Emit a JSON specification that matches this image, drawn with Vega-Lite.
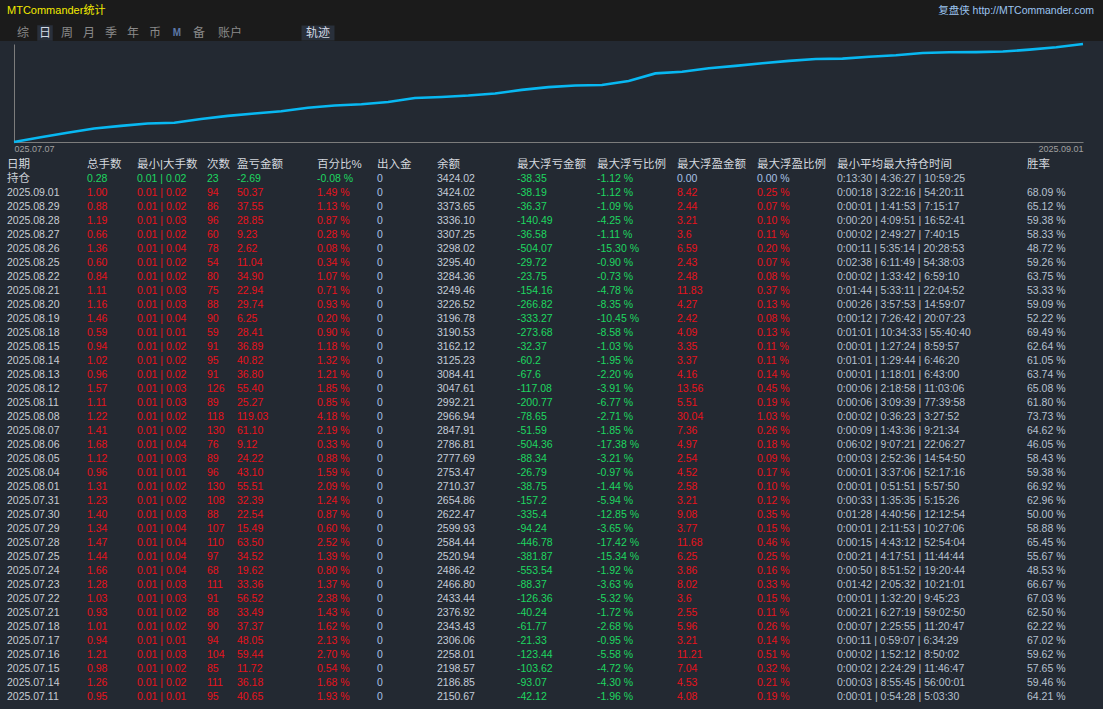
{
  "$schema": "https://vega.github.io/schema/vega-lite/v6.json",
  "background": "#1b1b1b",
  "padding": 0,
  "spacing": 0,
  "bounds": "flush",
  "config": {"view": {"stroke": null}, "axis": {"domainWidth": 1}},
  "datasets": {
    "hdr": [
      {"t": "MTCommander统计", "i": 0, "r": "top", "kind": "title"},
      {"t": "综", "i": 1, "r": "tab", "kind": "tab"},
      {"t": "日", "i": 2, "r": "tab", "kind": "sel"},
      {"t": "周", "i": 3, "r": "tab", "kind": "tab"},
      {"t": "月", "i": 4, "r": "tab", "kind": "tab"},
      {"t": "季", "i": 5, "r": "tab", "kind": "tab"},
      {"t": "年", "i": 6, "r": "tab", "kind": "tab"},
      {"t": "币", "i": 7, "r": "tab", "kind": "tab"},
      {"t": "M", "i": 8, "r": "tab", "kind": "icon"},
      {"t": "备", "i": 9, "r": "tab", "kind": "tab"},
      {"t": "账户", "i": 10, "r": "tab", "kind": "tab"},
      {"t": "轨迹", "i": 11, "r": "tab", "kind": "sel"},
      {"t": "复盘侠 http://MTCommander.com", "i": 12, "r": "top", "kind": "url"}
    ],
    "eq": [
      {"d": "2025.07.07", "v": 1900},
      {"d": "2025.07.08", "v": 1975},
      {"d": "2025.07.09", "v": 2045},
      {"d": "2025.07.10", "v": 2110.02},
      {"d": "2025.07.11", "v": 2150.67},
      {"d": "2025.07.14", "v": 2186.85},
      {"d": "2025.07.15", "v": 2198.57},
      {"d": "2025.07.16", "v": 2258.01},
      {"d": "2025.07.17", "v": 2306.06},
      {"d": "2025.07.18", "v": 2343.43},
      {"d": "2025.07.21", "v": 2376.92},
      {"d": "2025.07.22", "v": 2433.44},
      {"d": "2025.07.23", "v": 2466.80},
      {"d": "2025.07.24", "v": 2486.42},
      {"d": "2025.07.25", "v": 2520.94},
      {"d": "2025.07.28", "v": 2584.44},
      {"d": "2025.07.29", "v": 2599.93},
      {"d": "2025.07.30", "v": 2622.47},
      {"d": "2025.07.31", "v": 2654.86},
      {"d": "2025.08.01", "v": 2710.37},
      {"d": "2025.08.04", "v": 2753.47},
      {"d": "2025.08.05", "v": 2777.69},
      {"d": "2025.08.06", "v": 2786.81},
      {"d": "2025.08.07", "v": 2847.91},
      {"d": "2025.08.08", "v": 2966.94},
      {"d": "2025.08.11", "v": 2992.21},
      {"d": "2025.08.12", "v": 3047.61},
      {"d": "2025.08.13", "v": 3084.41},
      {"d": "2025.08.14", "v": 3125.23},
      {"d": "2025.08.15", "v": 3162.12},
      {"d": "2025.08.18", "v": 3190.53},
      {"d": "2025.08.19", "v": 3196.78},
      {"d": "2025.08.20", "v": 3226.52},
      {"d": "2025.08.21", "v": 3249.46},
      {"d": "2025.08.22", "v": 3284.36},
      {"d": "2025.08.25", "v": 3295.40},
      {"d": "2025.08.26", "v": 3298.02},
      {"d": "2025.08.27", "v": 3307.25},
      {"d": "2025.08.28", "v": 3336.10},
      {"d": "2025.08.29", "v": 3373.65},
      {"d": "2025.09.01", "v": 3424.02}
    ],
    "cols": [
      {"k": "d", "ci": 0}, {"k": "a", "ci": 1}, {"k": "b", "ci": 2}, {"k": "n", "ci": 3},
      {"k": "p", "ci": 4}, {"k": "pc", "ci": 5}, {"k": "io", "ci": 6}, {"k": "bal", "ci": 7},
      {"k": "dd", "ci": 8}, {"k": "ddp", "ci": 9}, {"k": "fp", "ci": 10}, {"k": "fpp", "ci": 11},
      {"k": "t", "ci": 12}, {"k": "w", "ci": 13}
    ],
    "rows": [
      {"d": "日期", "a": "总手数", "b": "最小|大手数", "n": "次数", "p": "盈亏金额", "pc": "百分比%", "io": "出入金", "bal": "余额", "dd": "最大浮亏金额", "ddp": "最大浮亏比例", "fp": "最大浮盈金额", "fpp": "最大浮盈比例", "t": "最小平均最大持仓时间", "w": "胜率"},
      {"d": "持仓", "a": "0.28", "b": "0.01 | 0.02", "n": "23", "p": "-2.69", "pc": "-0.08 %", "io": "0", "bal": "3424.02", "dd": "-38.35", "ddp": "-1.12 %", "fp": "0.00", "fpp": "0.00 %", "t": "0:13:30 | 4:36:27 | 10:59:25", "w": ""},
      {"d": "2025.09.01", "a": "1.00", "b": "0.01 | 0.02", "n": "94", "p": "50.37", "pc": "1.49 %", "io": "0", "bal": "3424.02", "dd": "-38.19", "ddp": "-1.12 %", "fp": "8.42", "fpp": "0.25 %", "t": "0:00:18 | 3:22:16 | 54:20:11", "w": "68.09 %"},
      {"d": "2025.08.29", "a": "0.88", "b": "0.01 | 0.02", "n": "86", "p": "37.55", "pc": "1.13 %", "io": "0", "bal": "3373.65", "dd": "-36.37", "ddp": "-1.09 %", "fp": "2.44", "fpp": "0.07 %", "t": "0:00:01 | 1:41:53 | 7:15:17", "w": "65.12 %"},
      {"d": "2025.08.28", "a": "1.19", "b": "0.01 | 0.03", "n": "96", "p": "28.85", "pc": "0.87 %", "io": "0", "bal": "3336.10", "dd": "-140.49", "ddp": "-4.25 %", "fp": "3.21", "fpp": "0.10 %", "t": "0:00:20 | 4:09:51 | 16:52:41", "w": "59.38 %"},
      {"d": "2025.08.27", "a": "0.66", "b": "0.01 | 0.02", "n": "60", "p": "9.23", "pc": "0.28 %", "io": "0", "bal": "3307.25", "dd": "-36.58", "ddp": "-1.11 %", "fp": "3.6", "fpp": "0.11 %", "t": "0:00:02 | 2:49:27 | 7:40:15", "w": "58.33 %"},
      {"d": "2025.08.26", "a": "1.36", "b": "0.01 | 0.04", "n": "78", "p": "2.62", "pc": "0.08 %", "io": "0", "bal": "3298.02", "dd": "-504.07", "ddp": "-15.30 %", "fp": "6.59", "fpp": "0.20 %", "t": "0:00:11 | 5:35:14 | 20:28:53", "w": "48.72 %"},
      {"d": "2025.08.25", "a": "0.60", "b": "0.01 | 0.02", "n": "54", "p": "11.04", "pc": "0.34 %", "io": "0", "bal": "3295.40", "dd": "-29.72", "ddp": "-0.90 %", "fp": "2.43", "fpp": "0.07 %", "t": "0:02:38 | 6:11:49 | 54:38:03", "w": "59.26 %"},
      {"d": "2025.08.22", "a": "0.84", "b": "0.01 | 0.02", "n": "80", "p": "34.90", "pc": "1.07 %", "io": "0", "bal": "3284.36", "dd": "-23.75", "ddp": "-0.73 %", "fp": "2.48", "fpp": "0.08 %", "t": "0:00:02 | 1:33:42 | 6:59:10", "w": "63.75 %"},
      {"d": "2025.08.21", "a": "1.11", "b": "0.01 | 0.03", "n": "75", "p": "22.94", "pc": "0.71 %", "io": "0", "bal": "3249.46", "dd": "-154.16", "ddp": "-4.78 %", "fp": "11.83", "fpp": "0.37 %", "t": "0:01:44 | 5:33:11 | 22:04:52", "w": "53.33 %"},
      {"d": "2025.08.20", "a": "1.16", "b": "0.01 | 0.03", "n": "88", "p": "29.74", "pc": "0.93 %", "io": "0", "bal": "3226.52", "dd": "-266.82", "ddp": "-8.35 %", "fp": "4.27", "fpp": "0.13 %", "t": "0:00:26 | 3:57:53 | 14:59:07", "w": "59.09 %"},
      {"d": "2025.08.19", "a": "1.46", "b": "0.01 | 0.04", "n": "90", "p": "6.25", "pc": "0.20 %", "io": "0", "bal": "3196.78", "dd": "-333.27", "ddp": "-10.45 %", "fp": "2.42", "fpp": "0.08 %", "t": "0:00:12 | 7:26:42 | 20:07:23", "w": "52.22 %"},
      {"d": "2025.08.18", "a": "0.59", "b": "0.01 | 0.01", "n": "59", "p": "28.41", "pc": "0.90 %", "io": "0", "bal": "3190.53", "dd": "-273.68", "ddp": "-8.58 %", "fp": "4.09", "fpp": "0.13 %", "t": "0:01:01 | 10:34:33 | 55:40:40", "w": "69.49 %"},
      {"d": "2025.08.15", "a": "0.94", "b": "0.01 | 0.02", "n": "91", "p": "36.89", "pc": "1.18 %", "io": "0", "bal": "3162.12", "dd": "-32.37", "ddp": "-1.03 %", "fp": "3.35", "fpp": "0.11 %", "t": "0:00:01 | 1:27:24 | 8:59:57", "w": "62.64 %"},
      {"d": "2025.08.14", "a": "1.02", "b": "0.01 | 0.02", "n": "95", "p": "40.82", "pc": "1.32 %", "io": "0", "bal": "3125.23", "dd": "-60.2", "ddp": "-1.95 %", "fp": "3.37", "fpp": "0.11 %", "t": "0:01:01 | 1:29:44 | 6:46:20", "w": "61.05 %"},
      {"d": "2025.08.13", "a": "0.96", "b": "0.01 | 0.02", "n": "91", "p": "36.80", "pc": "1.21 %", "io": "0", "bal": "3084.41", "dd": "-67.6", "ddp": "-2.20 %", "fp": "4.16", "fpp": "0.14 %", "t": "0:00:01 | 1:18:01 | 6:43:00", "w": "63.74 %"},
      {"d": "2025.08.12", "a": "1.57", "b": "0.01 | 0.03", "n": "126", "p": "55.40", "pc": "1.85 %", "io": "0", "bal": "3047.61", "dd": "-117.08", "ddp": "-3.91 %", "fp": "13.56", "fpp": "0.45 %", "t": "0:00:06 | 2:18:58 | 11:03:06", "w": "65.08 %"},
      {"d": "2025.08.11", "a": "1.11", "b": "0.01 | 0.03", "n": "89", "p": "25.27", "pc": "0.85 %", "io": "0", "bal": "2992.21", "dd": "-200.77", "ddp": "-6.77 %", "fp": "5.51", "fpp": "0.19 %", "t": "0:00:06 | 3:09:39 | 77:39:58", "w": "61.80 %"},
      {"d": "2025.08.08", "a": "1.22", "b": "0.01 | 0.02", "n": "118", "p": "119.03", "pc": "4.18 %", "io": "0", "bal": "2966.94", "dd": "-78.65", "ddp": "-2.71 %", "fp": "30.04", "fpp": "1.03 %", "t": "0:00:02 | 0:36:23 | 3:27:52", "w": "73.73 %"},
      {"d": "2025.08.07", "a": "1.41", "b": "0.01 | 0.02", "n": "130", "p": "61.10", "pc": "2.19 %", "io": "0", "bal": "2847.91", "dd": "-51.59", "ddp": "-1.85 %", "fp": "7.36", "fpp": "0.26 %", "t": "0:00:09 | 1:43:36 | 9:21:34", "w": "64.62 %"},
      {"d": "2025.08.06", "a": "1.68", "b": "0.01 | 0.04", "n": "76", "p": "9.12", "pc": "0.33 %", "io": "0", "bal": "2786.81", "dd": "-504.36", "ddp": "-17.38 %", "fp": "4.97", "fpp": "0.18 %", "t": "0:06:02 | 9:07:21 | 22:06:27", "w": "46.05 %"},
      {"d": "2025.08.05", "a": "1.12", "b": "0.01 | 0.03", "n": "89", "p": "24.22", "pc": "0.88 %", "io": "0", "bal": "2777.69", "dd": "-88.34", "ddp": "-3.21 %", "fp": "2.54", "fpp": "0.09 %", "t": "0:00:03 | 2:52:36 | 14:54:50", "w": "58.43 %"},
      {"d": "2025.08.04", "a": "0.96", "b": "0.01 | 0.01", "n": "96", "p": "43.10", "pc": "1.59 %", "io": "0", "bal": "2753.47", "dd": "-26.79", "ddp": "-0.97 %", "fp": "4.52", "fpp": "0.17 %", "t": "0:00:01 | 3:37:06 | 52:17:16", "w": "59.38 %"},
      {"d": "2025.08.01", "a": "1.31", "b": "0.01 | 0.02", "n": "130", "p": "55.51", "pc": "2.09 %", "io": "0", "bal": "2710.37", "dd": "-38.75", "ddp": "-1.44 %", "fp": "2.58", "fpp": "0.10 %", "t": "0:00:01 | 0:51:51 | 5:57:50", "w": "66.92 %"},
      {"d": "2025.07.31", "a": "1.23", "b": "0.01 | 0.02", "n": "108", "p": "32.39", "pc": "1.24 %", "io": "0", "bal": "2654.86", "dd": "-157.2", "ddp": "-5.94 %", "fp": "3.21", "fpp": "0.12 %", "t": "0:00:33 | 1:35:35 | 5:15:26", "w": "62.96 %"},
      {"d": "2025.07.30", "a": "1.40", "b": "0.01 | 0.03", "n": "88", "p": "22.54", "pc": "0.87 %", "io": "0", "bal": "2622.47", "dd": "-335.4", "ddp": "-12.85 %", "fp": "9.08", "fpp": "0.35 %", "t": "0:01:28 | 4:40:56 | 12:12:54", "w": "50.00 %"},
      {"d": "2025.07.29", "a": "1.34", "b": "0.01 | 0.04", "n": "107", "p": "15.49", "pc": "0.60 %", "io": "0", "bal": "2599.93", "dd": "-94.24", "ddp": "-3.65 %", "fp": "3.77", "fpp": "0.15 %", "t": "0:00:01 | 2:11:53 | 10:27:06", "w": "58.88 %"},
      {"d": "2025.07.28", "a": "1.47", "b": "0.01 | 0.04", "n": "110", "p": "63.50", "pc": "2.52 %", "io": "0", "bal": "2584.44", "dd": "-446.78", "ddp": "-17.42 %", "fp": "11.68", "fpp": "0.46 %", "t": "0:00:15 | 4:43:12 | 52:54:04", "w": "65.45 %"},
      {"d": "2025.07.25", "a": "1.44", "b": "0.01 | 0.04", "n": "97", "p": "34.52", "pc": "1.39 %", "io": "0", "bal": "2520.94", "dd": "-381.87", "ddp": "-15.34 %", "fp": "6.25", "fpp": "0.25 %", "t": "0:00:21 | 4:17:51 | 11:44:44", "w": "55.67 %"},
      {"d": "2025.07.24", "a": "1.66", "b": "0.01 | 0.04", "n": "68", "p": "19.62", "pc": "0.80 %", "io": "0", "bal": "2486.42", "dd": "-553.54", "ddp": "-1.92 %", "fp": "3.86", "fpp": "0.16 %", "t": "0:00:50 | 8:51:52 | 19:20:44", "w": "48.53 %"},
      {"d": "2025.07.23", "a": "1.28", "b": "0.01 | 0.03", "n": "111", "p": "33.36", "pc": "1.37 %", "io": "0", "bal": "2466.80", "dd": "-88.37", "ddp": "-3.63 %", "fp": "8.02", "fpp": "0.33 %", "t": "0:01:42 | 2:05:32 | 10:21:01", "w": "66.67 %"},
      {"d": "2025.07.22", "a": "1.03", "b": "0.01 | 0.03", "n": "91", "p": "56.52", "pc": "2.38 %", "io": "0", "bal": "2433.44", "dd": "-126.36", "ddp": "-5.32 %", "fp": "3.6", "fpp": "0.15 %", "t": "0:00:01 | 1:32:20 | 9:45:23", "w": "67.03 %"},
      {"d": "2025.07.21", "a": "0.93", "b": "0.01 | 0.02", "n": "88", "p": "33.49", "pc": "1.43 %", "io": "0", "bal": "2376.92", "dd": "-40.24", "ddp": "-1.72 %", "fp": "2.55", "fpp": "0.11 %", "t": "0:00:21 | 6:27:19 | 59:02:50", "w": "62.50 %"},
      {"d": "2025.07.18", "a": "1.01", "b": "0.01 | 0.02", "n": "90", "p": "37.37", "pc": "1.62 %", "io": "0", "bal": "2343.43", "dd": "-61.77", "ddp": "-2.68 %", "fp": "5.96", "fpp": "0.26 %", "t": "0:00:07 | 2:25:55 | 11:20:47", "w": "62.22 %"},
      {"d": "2025.07.17", "a": "0.94", "b": "0.01 | 0.01", "n": "94", "p": "48.05", "pc": "2.13 %", "io": "0", "bal": "2306.06", "dd": "-21.33", "ddp": "-0.95 %", "fp": "3.21", "fpp": "0.14 %", "t": "0:00:11 | 0:59:07 | 6:34:29", "w": "67.02 %"},
      {"d": "2025.07.16", "a": "1.21", "b": "0.01 | 0.03", "n": "104", "p": "59.44", "pc": "2.70 %", "io": "0", "bal": "2258.01", "dd": "-123.44", "ddp": "-5.58 %", "fp": "11.21", "fpp": "0.51 %", "t": "0:00:02 | 1:52:12 | 8:50:02", "w": "59.62 %"},
      {"d": "2025.07.15", "a": "0.98", "b": "0.01 | 0.02", "n": "85", "p": "11.72", "pc": "0.54 %", "io": "0", "bal": "2198.57", "dd": "-103.62", "ddp": "-4.72 %", "fp": "7.04", "fpp": "0.32 %", "t": "0:00:02 | 2:24:29 | 11:46:47", "w": "57.65 %"},
      {"d": "2025.07.14", "a": "1.26", "b": "0.01 | 0.02", "n": "111", "p": "36.18", "pc": "1.68 %", "io": "0", "bal": "2186.85", "dd": "-93.07", "ddp": "-4.30 %", "fp": "4.53", "fpp": "0.21 %", "t": "0:00:03 | 8:55:45 | 56:00:01", "w": "59.46 %"},
      {"d": "2025.07.11", "a": "0.95", "b": "0.01 | 0.01", "n": "95", "p": "40.65", "pc": "1.93 %", "io": "0", "bal": "2150.67", "dd": "-42.12", "ddp": "-1.96 %", "fp": "4.08", "fpp": "0.19 %", "t": "0:00:01 | 0:54:28 | 5:03:30", "w": "64.21 %"}
    ]
  },
  "vconcat": [
    {
      "width": 1103,
      "height": 41,
      "view": {"fill": "#1b1b1b", "stroke": null},
      "data": {"name": "hdr"},
      "encoding": {
        "x": {"field": "i", "type": "quantitative", "axis": null,
              "scale": {"domain": [0, 1, 2, 3, 4, 5, 6, 7, 8, 9, 10, 11, 12],
                        "range": [7, 23, 45, 67, 89, 111, 133, 155, 177, 199, 230, 318, 1094],
                        "nice": false, "zero": false}},
        "y": {"field": "r", "type": "nominal", "axis": null,
              "scale": {"type": "point", "domain": ["top", "tab"], "range": [11, 33], "padding": 0}}
      },
      "layer": [
        {
          "transform": [{"filter": "datum.t == '日'"}],
          "mark": {"type": "point", "shape": "square", "filled": true, "size": 240, "color": "#29303b", "opacity": 1}
        },
        {
          "transform": [{"filter": "datum.t == '轨迹'"}],
          "mark": {"type": "point", "shape": "M-1,-0.46L1,-0.46L1,0.46L-1,0.46Z", "filled": true, "size": 1089, "color": "#29303b", "opacity": 1}
        },
        {
          "transform": [{"filter": "datum.kind == 'title'"}],
          "mark": {"type": "text", "align": "left", "baseline": "middle", "font": "Liberation Sans, Noto Sans CJK SC", "fontSize": 11, "color": "#f2ea00"},
          "encoding": {"text": {"field": "t"}}
        },
        {
          "transform": [{"filter": "datum.kind == 'url'"}],
          "mark": {"type": "text", "align": "right", "baseline": "middle", "font": "Liberation Sans, Noto Sans CJK SC", "fontSize": 10.5, "color": "#9cc4f0"},
          "encoding": {"text": {"field": "t"}}
        },
        {
          "transform": [{"filter": "datum.kind == 'tab' || datum.kind == 'sel'"}],
          "mark": {"type": "text", "align": "center", "baseline": "middle", "font": "Noto Sans CJK SC", "fontSize": 12},
          "encoding": {
            "text": {"field": "t"},
            "color": {"condition": {"test": "datum.kind == 'sel'", "value": "#d3dae6"}, "value": "#8a8a8a"}
          }
        },
        {
          "transform": [{"filter": "datum.kind == 'icon'"}],
          "mark": {"type": "text", "align": "center", "baseline": "middle", "font": "Liberation Sans", "fontSize": 10, "fontWeight": "bold", "color": "#5b78a8"},
          "encoding": {"text": {"field": "t"}}
        }
      ]
    },
    {
      "width": 1103,
      "height": 114,
      "view": {"fill": "#232932", "stroke": null},
      "data": {"name": "eq"},
      "mark": {"type": "line", "color": "#08b8f2", "strokeWidth": 2.6, "interpolate": "linear"},
      "encoding": {
        "x": {
          "field": "d", "type": "ordinal", "sort": null,
          "scale": {"type": "point", "range": [14, 1083], "padding": 0},
          "axis": {
            "title": null, "offset": -13, "domainColor": "#7c7c7c", "ticks": false, "grid": false,
            "values": ["2025.07.07", "2025.09.01"], "labelFlush": true, "labelAngle": 0,
            "labelExpr": "datum.value == '2025.07.07' ? '025.07.07' : datum.label",
            "labelColor": "#a0a0a0", "labelFont": "Liberation Sans", "labelFontSize": 9, "labelPadding": 2
          }
        },
        "y": {
          "field": "v", "type": "quantitative",
          "scale": {"zero": false, "nice": false, "range": [101, 3]},
          "axis": {"title": null, "orient": "left", "offset": -14, "domainColor": "#7c7c7c", "ticks": false, "labels": false, "grid": false}
        }
      }
    },
    {
      "width": 1103,
      "height": 554,
      "view": {"fill": "#232932", "stroke": null},
      "data": {"name": "rows"},
      "transform": [
        {"fold": ["d", "a", "b", "n", "p", "pc", "io", "bal", "dd", "ddp", "fp", "fpp", "t", "w"], "as": ["k", "v"]},
        {"lookup": "k", "from": {"data": {"name": "cols"}, "key": "k", "fields": ["ci"]}}
      ],
      "mark": {"type": "text", "align": "left", "baseline": "middle", "font": "Liberation Sans, Noto Sans CJK SC"},
      "encoding": {
        "x": {"field": "ci", "type": "quantitative", "axis": null,
              "scale": {"domain": [0, 1, 2, 3, 4, 5, 6, 7, 8, 9, 10, 11, 12, 13],
                        "range": [7, 87, 137, 207, 237, 317, 377, 437, 517, 597, 677, 757, 837, 1027],
                        "nice": false, "zero": false}},
        "y": {"field": "d", "type": "nominal", "sort": null, "axis": null,
              "scale": {"type": "point", "range": [10, 542], "padding": 0}},
        "text": {"field": "v"},
        "size": {"condition": {"test": "datum.d == '日期' || datum.v == '持仓'", "value": 11.5}, "value": 10.5},
        "color": {
          "condition": [
            {"test": "datum.d == '日期'", "value": "#d4d8de"},
            {"test": "datum.k == 'd'", "value": "#c8ccd3"},
            {"test": "indexof(['a','b','n','p','pc'], datum.k) >= 0 && indexof(datum.p, '-') == 0", "value": "#1ed760"},
            {"test": "indexof(['a','b','n','p','pc'], datum.k) >= 0", "value": "#e8121c"},
            {"test": "datum.k == 'dd' || datum.k == 'ddp'", "value": "#1ed760"},
            {"test": "(datum.k == 'fp' || datum.k == 'fpp') && datum.fp != '0.00'", "value": "#e8121c"},
            {"test": "datum.k == 'io' || datum.k == 'fp' || datum.k == 'fpp'", "value": "#a8c2e6"},
            {"test": "datum.k == 'bal'", "value": "#c3ccd8"}
          ],
          "value": "#b6c1d0"
        }
      }
    }
  ]
}
